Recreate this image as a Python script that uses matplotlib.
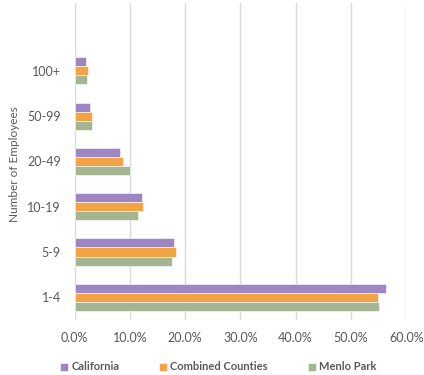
import matplotlib
matplotlib.use("Agg")
import matplotlib.pyplot as plt
import numpy as np

categories = ["1-4", "5-9", "10-19", "20-49", "50-99", "100+"]
california = [56.4, 17.9, 12.2, 8.3, 2.8, 2.05]
combined = [54.9, 18.3, 12.3, 8.7, 3.1, 2.4]
menlo = [55.1, 17.6, 11.5, 10.0, 3.2, 2.2]
series_names = ["California", "Combined Counties", "Menlo Park"]
colors = ["#9E86C3", "#F2A444", "#A5B592"]
xticks = [0, 10, 20, 30, 40, 50, 60]

plt.rcParams['font.family'] = ['Lato', 'DejaVu Sans']

fig = plt.figure(figsize=(4.24, 3.75), dpi=100)
ax = fig.add_axes([0.176, 0.147, 0.782, 0.845])

y = np.arange(len(categories))
h = 0.2
for i, (vals, name, c) in enumerate(zip([california, combined, menlo], series_names, colors)):
    ax.barh(y + (1 - i) * h, vals, height=h, color=c, label=name,
            edgecolor="white", linewidth=0.4, zorder=3)

ax.set_xlim(0, 60)
ax.set_ylim(-0.5, 6.5)
ax.set_yticks(y)
ax.set_yticklabels(categories)
ax.set_xticks(xticks)
ax.set_xticklabels([f"{v:.1f}%" for v in xticks])
ax.tick_params(length=0, colors="#595959", labelsize=9)
ax.tick_params(axis="x", pad=9)
ax.tick_params(axis="y", pad=10)
for s in ax.spines.values():
    s.set_visible(False)
ax.grid(axis="x", color="#D9D9D9", linewidth=1, zorder=0)
ax.set_ylabel("Number of Employees", color="#595959", fontsize=8.5)
ax.yaxis.set_label_coords(-0.165, 0.49)

fig.legend(loc="lower center", bbox_to_anchor=(0.515, -0.02), ncol=3, frameon=False,
           prop={"size": 8, "weight": "bold"}, labelcolor="#595959",
           handlelength=0.7, handleheight=0.7, handletextpad=0.3, columnspacing=3.6)

fig.savefig("out.png", dpi=100)
